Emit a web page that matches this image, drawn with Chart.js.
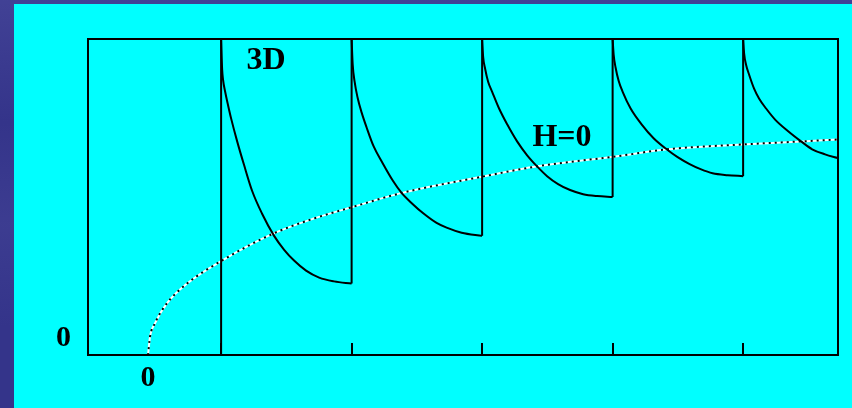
<!DOCTYPE html>
<html>
<head>
<meta charset="utf-8">
<script src="https://cdn.jsdelivr.net/npm/chart.js@4/dist/chart.umd.min.js"></script>
<style>
  html, body { margin: 0; padding: 0; }
  body {
    width: 852px; height: 408px; overflow: hidden; position: relative;
    background:
      linear-gradient(180deg, rgba(90,90,170,0.35) 0%, rgba(40,40,120,0) 30%, rgba(80,80,160,0.3) 55%, rgba(40,40,120,0) 80%),
      #34348a;
  }
  #panel {
    position: absolute; left: 14px; top: 4px;
    width: 838px; height: 404px; background: #00ffff;
  }
</style>
</head>
<body>
<div id="panel"><canvas id="chart" width="838" height="404"></canvas></div>
<script>
// time in units of the pulse period, concentration in arbitrary units (0..10)
const pulseTimes = [0.56, 1.56, 2.56, 3.56, 4.56];

// decay after each pulse: time since the pulse, and the level
const decayOffsets = [
  [0, 0.008, 0.015, 0.031, 0.054, 0.077, 0.123, 0.176, 0.238, 0.314, 0.406, 0.483, 0.559, 0.651, 0.751, 0.866, 1.0],
  [0, 0.008, 0.023, 0.046, 0.077, 0.115, 0.169, 0.238, 0.314, 0.383, 0.467, 0.544, 0.651, 0.728, 0.843, 1.0],
  [0, 0.008, 0.023, 0.046, 0.077, 0.130, 0.192, 0.268, 0.345, 0.421, 0.498, 0.582, 0.674, 0.774, 0.881, 1.0],
  [0, 0.008, 0.023, 0.046, 0.077, 0.138, 0.222, 0.314, 0.414, 0.498, 0.590, 0.674, 0.766, 0.881, 1.0],
  [0, 0.008, 0.023, 0.046, 0.084, 0.123, 0.176, 0.245, 0.345, 0.444, 0.529, 0.628, 0.728]
];
const decayValues = [
  [10, 9.03, 8.71, 8.33, 7.89, 7.48, 6.76, 6.01, 5.19, 4.47, 3.77, 3.33, 2.99, 2.67, 2.45, 2.33, 2.26],
  [10, 9.21, 8.65, 8.14, 7.67, 7.20, 6.60, 6.07, 5.53, 5.13, 4.78, 4.50, 4.18, 4.03, 3.87, 3.77],
  [10, 9.43, 9.06, 8.65, 8.33, 7.80, 7.30, 6.76, 6.32, 5.97, 5.66, 5.41, 5.22, 5.09, 5.03, 5.00],
  [10, 9.50, 9.09, 8.68, 8.33, 7.80, 7.30, 6.86, 6.51, 6.26, 6.04, 5.88, 5.75, 5.69, 5.66],
  [10, 9.53, 9.18, 8.87, 8.43, 8.11, 7.80, 7.45, 7.08, 6.76, 6.51, 6.35, 6.23]
];

// the H=0 curve
const smoothTimes  = [0, 0.015, 0.054, 0.146, 0.299, 0.567, 0.958, 1.264, 1.571, 1.946, 2.544, 2.981, 3.594, 3.977, 4.590, 5.011, 5.287];
const smoothValues = [0, 0.57, 1.01, 1.64, 2.26, 2.99, 3.84, 4.31, 4.69, 5.13, 5.63, 5.97, 6.29, 6.51, 6.67, 6.76, 6.82];

const axisTicks = [0];
const annotations = [
  { text: '3D', x: 0.904, y: 9.31 },
  { text: 'H=0', x: 3.172, y: 6.86 }
];

const serif = "'Liberation Serif', 'Times New Roman', serif";

// vertical jumps at each pulse, broken with null between them
const jumps = [];
pulseTimes.forEach((t, i) => {
  const before = i === 0 ? 0 : decayValues[i - 1][decayValues[i - 1].length - 1];
  jumps.push({ x: t, y: before }, { x: t, y: 10 }, { x: t, y: null });
});

const datasets = [];
decayOffsets.forEach((offs, i) => {
  datasets.push({
    data: offs.map((d, j) => ({ x: pulseTimes[i] + d, y: decayValues[i][j] })),
    borderColor: '#000', borderWidth: 2, pointRadius: 0,
    cubicInterpolationMode: 'monotone', order: 1
  });
});
datasets.push({
  data: jumps, borderColor: '#000', borderWidth: 2, pointRadius: 0,
  spanGaps: false, order: 1
});
const smoothData = smoothTimes.map((t, i) => ({ x: t, y: smoothValues[i] }));
datasets.push({
  data: smoothData, borderColor: '#fff', borderWidth: 2, pointRadius: 0,
  cubicInterpolationMode: 'monotone', order: 3
});
datasets.push({
  data: smoothData, borderColor: '#000', borderWidth: 2, pointRadius: 0,
  borderDash: [2, 4], cubicInterpolationMode: 'monotone', order: 2
});

const frame = {
  id: 'frame',
  afterDatasetsDraw(chart) {
    const { ctx, chartArea: a, scales } = chart;
    ctx.save();
    ctx.strokeStyle = '#000';
    ctx.lineWidth = 2;
    ctx.strokeRect(a.left, a.top, a.right - a.left, a.bottom - a.top);
    // small ticks at the pulse times
    pulseTimes.forEach(t => {
      const px = Math.round(scales.x.getPixelForValue(t));
      ctx.beginPath();
      ctx.moveTo(px, a.bottom);
      ctx.lineTo(px, a.bottom - 12);
      ctx.stroke();
    });
    ctx.fillStyle = '#000';
    ctx.font = 'bold 32px ' + serif;
    ctx.textAlign = 'center';
    ctx.textBaseline = 'middle';
    annotations.forEach(n => {
      ctx.fillText(n.text, scales.x.getPixelForValue(n.x), scales.y.getPixelForValue(n.y));
    });
    ctx.restore();
  }
};

new Chart(document.getElementById('chart'), {
  type: 'line',
  data: { datasets },
  options: {
    responsive: false,
    animation: false,
    layout: { padding: { left: 0, top: 33, right: 14, bottom: 0 } },
    plugins: { legend: { display: false }, tooltip: { enabled: false } },
    scales: {
      x: {
        type: 'linear', min: -0.46, max: 5.287,
        grid: { display: false, drawTicks: false },
        border: { display: false },
        afterBuildTicks: s => { s.ticks = axisTicks.map(v => ({ value: v })); },
        afterFit: s => { s.height = 53; },
        ticks: { color: '#000', padding: 5, font: { family: serif, size: 30, weight: 'bold' } }
      },
      y: {
        type: 'linear', min: 0, max: 10,
        grid: { display: false, drawTicks: false },
        border: { display: false },
        afterBuildTicks: s => { s.ticks = axisTicks.map(v => ({ value: v })); },
        afterFit: s => { s.width = 74; },
        ticks: { color: '#000', padding: 17, labelOffset: -17, font: { family: serif, size: 30, weight: 'bold' } }
      }
    }
  },
  plugins: [frame]
});
</script>
</body>
</html>
